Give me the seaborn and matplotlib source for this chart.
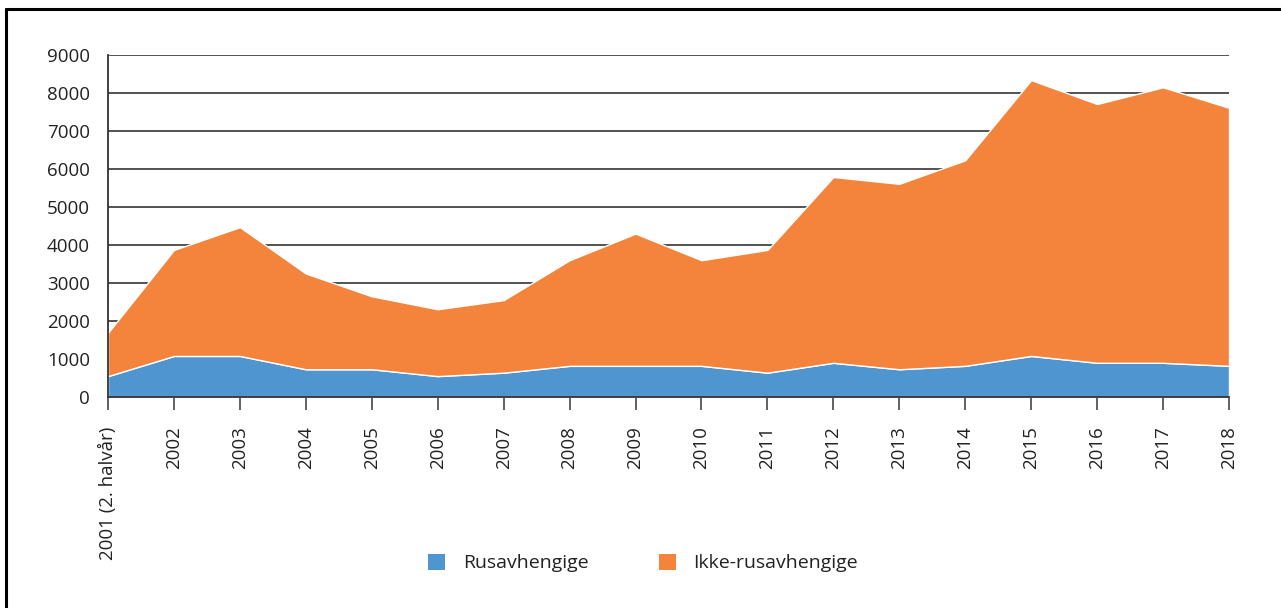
import matplotlib
matplotlib.use("Agg")
import matplotlib.pyplot as plt
import seaborn as sns
import numpy as np
from matplotlib.lines import Line2D
from matplotlib.patches import Patch

# -- data
years = ["2001 (2. halvår)", "2002", "2003", "2004", "2005", "2006", "2007",
         "2008", "2009", "2010", "2011", "2012", "2013", "2014", "2015",
         "2016", "2017", "2018"]
rusavhengige = [550, 1080, 1080, 730, 730, 550, 640, 820, 820, 820, 640,
                900, 730, 820, 1080, 900, 900, 820]
ikke_rusavhengige = [1140, 2790, 3390, 2520, 1920, 1760, 1910, 2780, 3480,
                     2780, 3230, 4890, 4880, 5410, 7260, 6810, 7250, 6790]
series_names = ["Rusavhengige", "Ikke-rusavhengige"]
colors = ["#4F96D1", "#F4843C"]

sns.set_theme(style="white")
plt.rcParams["font.family"] = ["Open Sans", "DejaVu Sans"]

fig = plt.figure(figsize=(12.81, 6.08), dpi=100)
ax = fig.add_axes([108 / 1281, 1 - 397 / 608, (1229 - 108) / 1281, (397 - 55) / 608])

x = np.arange(len(years))
ax.stackplot(x, rusavhengige, ikke_rusavhengige, colors=colors,
             labels=series_names, zorder=2)

ax.set_xlim(0, len(years) - 1)
ax.set_ylim(0, 9000)
ax.set_yticks(range(0, 9001, 1000))
ax.yaxis.grid(True, color="#444444", linewidth=1.3, zorder=1)
ax.set_axisbelow(True)
ax.set_xticks(x)
ax.set_xticklabels(years, rotation=90, ha="center", va="top")

for side in ["top", "right"]:
    ax.spines[side].set_visible(False)
for side in ["left", "bottom"]:
    ax.spines[side].set_color("#333333")
    ax.spines[side].set_linewidth(1.3)
    ax.spines[side].set_zorder(3)

ax.tick_params(axis="x", length=9, width=1.3, color="#555555", pad=12,
               labelsize=13.5, labelcolor="#222222", bottom=True)
ax.tick_params(axis="y", length=0, pad=13, labelsize=13.5, labelcolor="#222222")

handles = [Patch(facecolor=c, edgecolor="none") for c in colors]
fig.legend(handles, series_names, loc="center", bbox_to_anchor=(0.502, 0.074),
           ncol=2, frameon=False, fontsize=14, handlelength=0.9, handleheight=0.9,
           columnspacing=3.6, handletextpad=0.9, labelcolor="#222222")

# frame lines along the left and top edge
fig.add_artist(Line2D([6 / 1281, 6 / 1281], [0, 1 - 9 / 608], color="black",
                      linewidth=2.2, transform=fig.transFigure))
fig.add_artist(Line2D([6 / 1281, 1], [1 - 9 / 608, 1 - 9 / 608], color="black",
                      linewidth=2.2, transform=fig.transFigure))

fig.savefig("out.png", dpi=100)
